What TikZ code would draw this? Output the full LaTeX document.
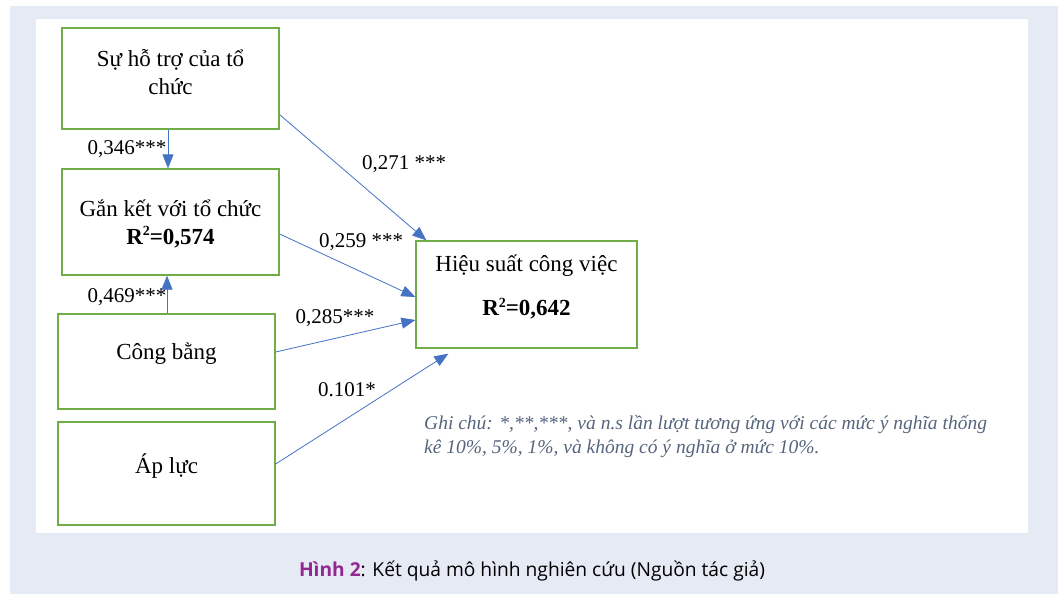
\documentclass[tikz,border=0pt]{standalone}
\usepackage{fontspec}
\setmainfont{Liberation Serif}
\newfontfamily\capfont{Open Sans}
\usetikzlibrary{arrows.meta,calc}
\definecolor{bgblue}{HTML}{E6EAF5}
\definecolor{boxgreen}{HTML}{70AD47}
\definecolor{arrblue}{HTML}{4472C4}
\definecolor{notegray}{HTML}{56657D}
\definecolor{cappurple}{HTML}{93278F}
\newcommand{\rsq}{R\raisebox{8.5pt}{\fontsize{14}{14}\selectfont 2}}
\begin{document}
\begin{tikzpicture}[x=1pt,y=-1pt,
  box/.style={draw=boxgreen,line width=1.3pt,fill=white,inner sep=0pt},
  boxtext/.style={font=\fontsize{23}{28}\selectfont,align=center,inner sep=0pt},
  coef/.style={font=\fontsize{21}{24}\selectfont,inner sep=0pt},
  link/.style={draw=arrblue,line width=0.8pt,-{Triangle[length=14pt,width=11pt]}}]
\useasboundingbox (0,0) rectangle (1058,594);
\fill[bgblue] (10,6) rectangle (1058,594);
\fill[white] (36,19) rectangle (1028,533);
% boxes
\node[box,minimum width=217pt,minimum height=101pt] (b1) at (170.5,78.5) {};
\node[box,minimum width=217pt,minimum height=106pt] (b2) at (170.5,222) {};
\node[box,minimum width=217pt,minimum height=95pt] (b3) at (166.5,361.5) {};
\node[box,minimum width=217pt,minimum height=103pt] (b4) at (166.5,473.5) {};
\node[box,minimum width=221pt,minimum height=107pt] (b5) at (526.5,294.5) {};
% texts
\node[boxtext] (t1) at (170.5,72) {Sự hỗ trợ của tổ\\chức};
\node[boxtext] (t2) at (170.5,223.5) {Gắn kết với tổ chức\\\textbf{\rsq=0,574}};
\node[boxtext] (t3) at (166.5,354) {Công bằng};
\node[boxtext] (t4) at (166.5,466) {Áp lực};
\node[boxtext,font=\fontsize{23}{44}\selectfont] (t5) at (526.5,287) {Hiệu suất công việc\\\textbf{\rsq=0,642}};
% free arrow end
\coordinate (e4) at ($(b5.south west)+(33,5)$);
% arrows
\draw[link] ([xshift=-2.5pt]b1.south) -- ([xshift=-2.5pt]b2.north);
\draw[link] ([xshift=0.5pt]b3.north) -- ([xshift=-3.5pt]b2.south);
\draw[link] ($(b1.south east)+(0,-15)$) -- ($(b5.north west)+(11,0)$);
\draw[link] ($(b2.east)+(0,12)$) -- ($(b5.west)+(0,2.5)$);
\draw[link] ($(b3.east)+(0,-9.5)$) -- ($(b5.west)+(0,25.5)$);
\draw[link] ($(b4.east)+(0,-9.5)$) -- (e4);
% coefficients
\node[coef] (c1) at (127,149) {0,346***};
\node[coef] (c2) at (127,297) {0,469***};
\node[coef] (c3) at (404,164) {0,271 ***};
\node[coef] (c4) at (361,242) {0,259 ***};
\node[coef] (c5) at (335,318) {0,285***};
\node[coef] (c6) at (347,390) {0.101*};
% note
\node[anchor=west,inner sep=0pt,align=left,text=notegray,font=\fontsize{19.5}{24}\selectfont\itshape] (note) at (424,437)
  {Ghi chú: *,**,***, và n.s lần lượt tương ứng với các mức ý nghĩa thống\\kê 10\%, 5\%, 1\%, và không có ý nghĩa ở mức 10\%.};
% caption
\node[inner sep=0pt,font=\capfont\fontsize{19.2}{22}\selectfont] (cap) at (532,571)
  {\textcolor{cappurple}{\textbf{Hình 2}}: Kết quả mô hình nghiên cứu (Nguồn tác giả)};
\end{tikzpicture}
\end{document}
